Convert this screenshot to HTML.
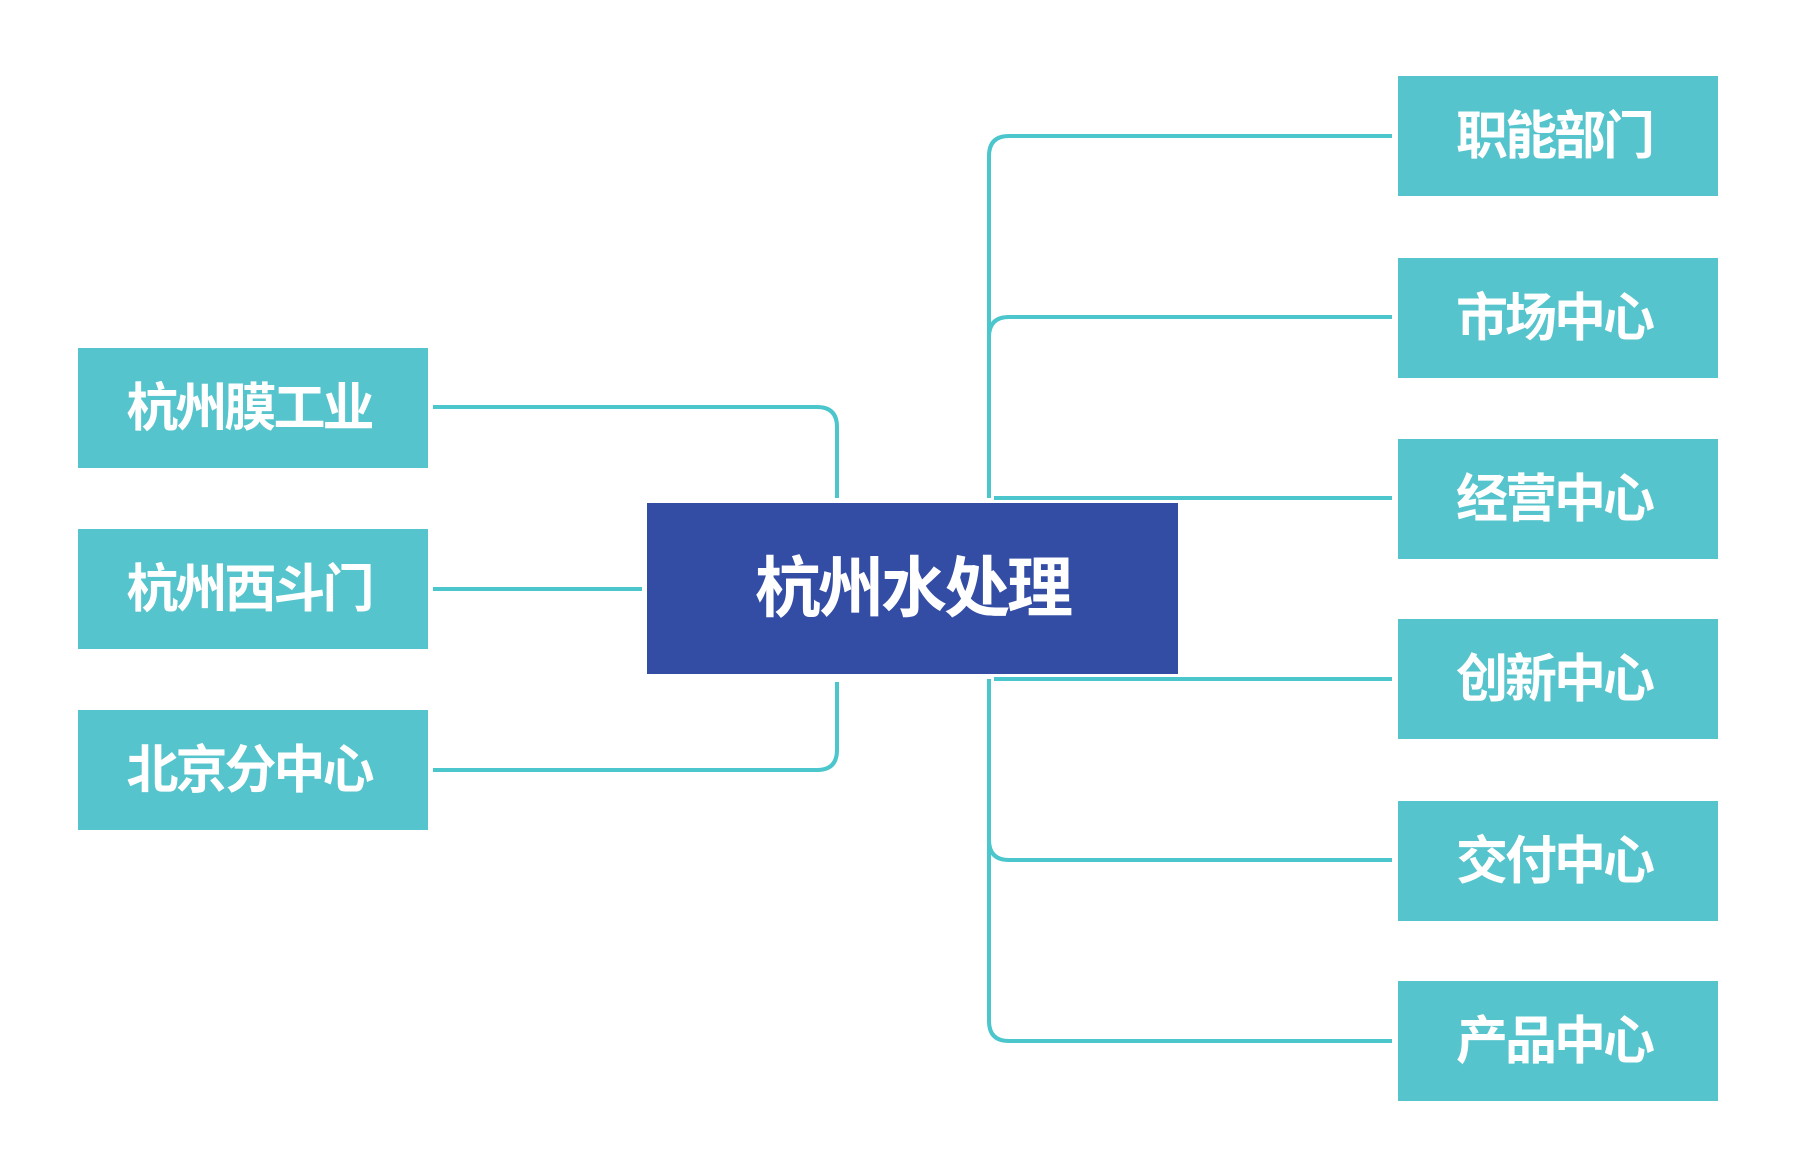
<!DOCTYPE html>
<html><head><meta charset="utf-8"><style>
body{margin:0;width:1794px;height:1176px;background:#fff;position:relative;overflow:hidden;font-family:"Liberation Sans","Noto Sans CJK SC",sans-serif}
.b{position:absolute;background:#55c4cc;color:#fff;font-weight:bold;font-size:52px;display:flex;align-items:center;justify-content:center;letter-spacing:-3px}
.b span{position:relative;top:-5px;left:-4px}
.c{position:absolute;left:647px;top:503px;width:531px;height:171px;background:#334ca4;color:#fff;font-weight:bold;font-size:66px;display:flex;align-items:center;justify-content:center;letter-spacing:-3px}
.c span{position:relative;top:-6px}
svg{position:absolute;left:0;top:0}
</style></head><body>
<svg width="1794" height="1176" fill="none" stroke="#4ac6cc" stroke-width="4">
<path d="M1392 136 H1009 Q989 136 989 156 V498"/>
<path d="M1392 317 H1009 Q989 317 989 337"/>
<path d="M989 679 V1021 Q989 1041 1009 1041 H1392"/>
<path d="M989 840 Q989 860 1009 860 H1392"/>
<path d="M994 498 H1392"/>
<path d="M994 679 H1392"/>
<path d="M433 407 H817 Q837 407 837 427 V498"/>
<path d="M433 589 H642"/>
<path d="M837 682 V750 Q837 770 817 770 H433"/>
</svg>
<div class="c"><span>杭州水处理</span></div>
<div class="b" style="left:78px;top:348px;width:350px;height:120px"><span>杭州膜工业</span></div>
<div class="b" style="left:78px;top:529px;width:350px;height:120px"><span>杭州西斗门</span></div>
<div class="b" style="left:78px;top:710px;width:350px;height:120px"><span>北京分中心</span></div>
<div class="b" style="left:1398px;top:76px;width:320px;height:120px"><span>职能部门</span></div>
<div class="b" style="left:1398px;top:258px;width:320px;height:120px"><span>市场中心</span></div>
<div class="b" style="left:1398px;top:439px;width:320px;height:120px"><span>经营中心</span></div>
<div class="b" style="left:1398px;top:619px;width:320px;height:120px"><span>创新中心</span></div>
<div class="b" style="left:1398px;top:801px;width:320px;height:120px"><span>交付中心</span></div>
<div class="b" style="left:1398px;top:981px;width:320px;height:120px"><span>产品中心</span></div>
</body></html>
